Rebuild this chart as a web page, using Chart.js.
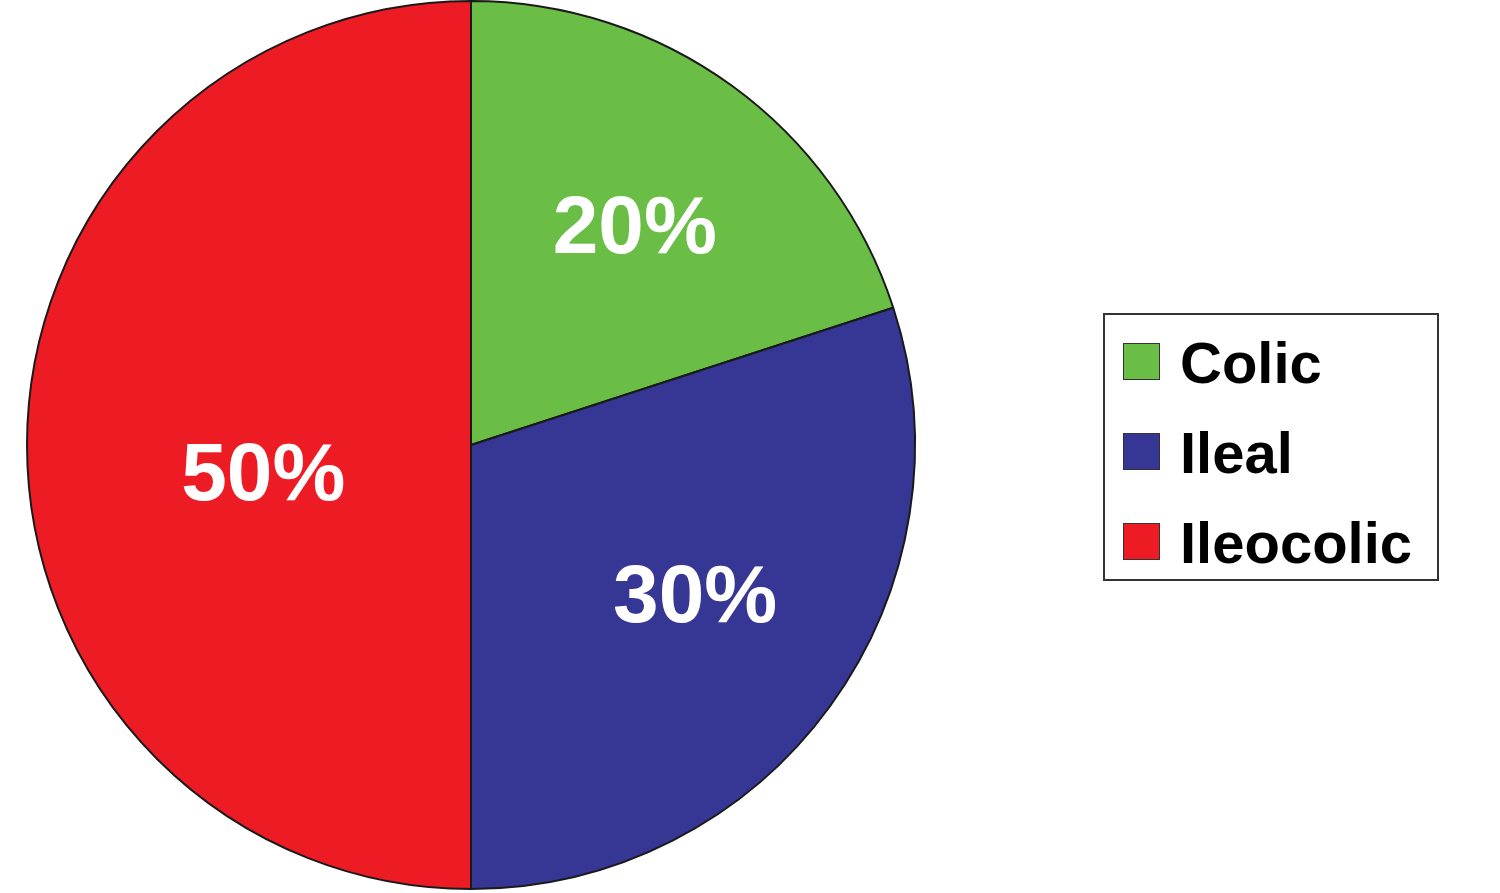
<!DOCTYPE html>
<html>
<head>
<meta charset="utf-8">
<script src="https://cdn.jsdelivr.net/npm/chart.js@4.4.1/dist/chart.umd.min.js"></script>
<style>
  html, body { margin: 0; padding: 0; background: #fff; }
  #wrap { position: relative; width: 1500px; height: 893px; }
  #pie { position: absolute; left: 0; top: 0; }
  .legend {
    position: absolute; left: 1103px; top: 313px; width: 332px; height: 264px;
    border: 2px solid #333; background: #fff;
    font-family: "Liberation Sans", Arial, sans-serif; font-weight: bold; font-size: 58px; color: #000;
  }
  .legend .row { position: absolute; left: 18px; height: 40px; }
  .legend .sw { position: absolute; left: 0; top: 0; width: 35px; height: 35px; border: 1.5px solid #333; }
  .legend .lbl { position: absolute; left: 57px; top: -12px; line-height: 64px; white-space: nowrap; }
</style>
</head>
<body>
<div id="wrap">
  <canvas id="pie" width="1500" height="893"></canvas>
  <div class="legend" id="legend"></div>
</div>
<script>
// data
const categories = ['Colic', 'Ileal', 'Ileocolic'];
const shares = [20, 30, 50];
const colors = ['#6abd45', '#363795', '#ed1c24'];

// label placement (fraction of radius, extra x/y shift)
const labelRadius = [0.62, 0.61, 0.47];
const labelShiftX = [2, 5, 1];
const labelShiftY = [5, -8, 29];

const sliceLabels = {
    id: 'sliceLabels',
    afterDatasetsDraw(chart) {
        const ctx = chart.ctx;
        const arcs = chart.getDatasetMeta(0).data;
        ctx.save();
        ctx.fillStyle = '#fff';
        ctx.font = 'bold 82px "Liberation Sans", Arial, sans-serif';
        ctx.textAlign = 'center';
        ctx.textBaseline = 'middle';
        arcs.forEach((arc, i) => {
            const p = arc.getProps(['x', 'y', 'startAngle', 'endAngle', 'outerRadius'], true);
            const mid = (p.startAngle + p.endAngle) / 2;
            const r = p.outerRadius * labelRadius[i];
            const x = p.x + Math.cos(mid) * r + labelShiftX[i];
            const y = p.y + Math.sin(mid) * r + labelShiftY[i];
            ctx.fillText(shares[i] + '%', x, y + 3);
        });
        ctx.restore();
    }
};

new Chart(document.getElementById('pie'), {
    type: 'pie',
    data: {
        labels: categories,
        datasets: [{
            data: shares,
            backgroundColor: colors,
            borderColor: '#1a1a1a',
            borderWidth: 2
        }]
    },
    options: {
        responsive: false,
        animation: false,
        layout: { padding: { left: 0, right: 558, top: 0, bottom: 3 } },
        plugins: {
            legend: { display: false },
            tooltip: { enabled: false }
        }
    },
    plugins: [sliceLabels]
});

// legend
const legendEl = document.getElementById('legend');
categories.forEach((name, i) => {
    const row = document.createElement('div');
    row.className = 'row';
    row.style.top = (28 + i * 90) + 'px';
    row.innerHTML = '<div class="sw" style="background:' + colors[i] + '"></div><div class="lbl">' + name + '</div>';
    legendEl.appendChild(row);
});
</script>
</body>
</html>
